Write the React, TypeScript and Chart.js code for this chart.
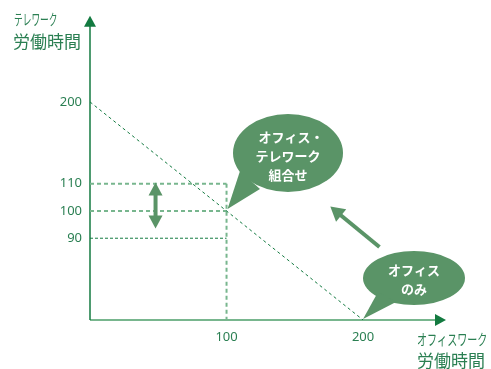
import React, { useEffect, useRef } from "react";
import { Chart, registerables } from "chart.js";

Chart.register(...registerables);

// Data (schematic chart)
const xTickValues = [100, 200];
const xTickLabels = ["100", "200"];
// y tick labels and their (schematic) positions on the axis
const yTickLabels = ["90", "100", "110", "200"];
const yTickPositions = [75, 100, 125, 200];

const budgetLine = [
  { x: 0, y: 200 },
  { x: 200, y: 0 },
];
const line110 = [
  { x: 0, y: 125 },
  { x: 100, y: 125 },
];
const line100 = [
  { x: 0, y: 100 },
  { x: 100, y: 100 },
];
const line90 = [
  { x: 0, y: 75 },
  { x: 100, y: 75 },
];
const line100v = [
  { x: 100, y: 125 },
  { x: 100, y: 0 },
];

const yTitle = ["テレワーク", "労働時間"];
const xTitle = ["オフィスワーク", "労働時間"];
const bubble1Lines = ["オフィス・", "テレワーク", "組合せ"];
const bubble2Lines = ["オフィス", "のみ"];

const DARK = "#137a40";
const LIGHT = "#78b68e";
const MID = "#5a9467";
const TEXT = "#2a7f52";
const JP = '"Noto Sans CJK JP", "Noto Sans", sans-serif';

function condensedText(ctx: CanvasRenderingContext2D, text: string, x: number, y: number, font: string, sx: number) {
  ctx.save();
  ctx.font = font;
  ctx.translate(x, y);
  ctx.scale(sx, 1);
  ctx.fillText(text, 0, 0);
  ctx.restore();
}

function arrowHead(ctx: CanvasRenderingContext2D, tx: number, ty: number, fx: number, fy: number, len: number, half: number) {
  const a = Math.atan2(ty - fy, tx - fx);
  const bx = tx - len * Math.cos(a);
  const by = ty - len * Math.sin(a);
  ctx.beginPath();
  ctx.moveTo(tx, ty);
  ctx.lineTo(bx + half * Math.sin(a), by - half * Math.cos(a));
  ctx.lineTo(bx - half * Math.sin(a), by + half * Math.cos(a));
  ctx.closePath();
  ctx.fill();
}

const decorPlugin = {
  id: "decor",
  beforeDatasetsDraw(chart: any) {
    const { ctx, chartArea } = chart;
    const xs = chart.scales.x;
    const ys = chart.scales.y;
    const x0 = xs.getPixelForValue(0);
    const y0 = ys.getPixelForValue(0);
    ctx.save();
    // x axis
    ctx.strokeStyle = LIGHT;
    ctx.fillStyle = DARK;
    ctx.lineWidth = 2;
    ctx.beginPath();
    ctx.moveTo(x0, y0);
    ctx.lineTo(chartArea.right - 8, y0);
    ctx.stroke();
    arrowHead(ctx, chartArea.right + 1, y0, x0, y0, 11, 6);
    // y axis
    ctx.strokeStyle = DARK;
    ctx.lineWidth = 1.5;
    ctx.beginPath();
    ctx.moveTo(x0, y0);
    ctx.lineTo(x0, chartArea.top + 8);
    ctx.stroke();
    arrowHead(ctx, x0, chartArea.top, x0, y0, 11, 6);
    ctx.restore();
  },
  afterDraw(chart: any) {
    const { ctx } = chart;
    const xs = chart.scales.x;
    const ys = chart.scales.y;
    const px = (v: number) => xs.getPixelForValue(v);
    const py = (v: number) => ys.getPixelForValue(v);
    ctx.save();

    // titles
    ctx.fillStyle = TEXT;
    ctx.textBaseline = "alphabetic";
    ctx.textAlign = "left";
    condensedText(ctx, yTitle[0], 14, 25, `15px ${JP}`, 0.58);
    condensedText(ctx, yTitle[1], 13, 48, `17px ${JP}`, 1);
    condensedText(ctx, xTitle[0], 417, 345, `15px ${JP}`, 0.67);
    condensedText(ctx, xTitle[1], 417, 367, `17px ${JP}`, 1);

    // double arrow
    ctx.fillStyle = MID;
    ctx.strokeStyle = MID;
    const ax = px(48);
    const aTop = py(126);
    const aBot = py(84);
    ctx.lineWidth = 4;
    ctx.beginPath();
    ctx.moveTo(ax, aTop + 10);
    ctx.lineTo(ax, aBot - 10);
    ctx.stroke();
    arrowHead(ctx, ax, aTop, ax, aBot, 13, 7);
    arrowHead(ctx, ax, aBot, ax, aTop, 13, 7);

    // diagonal arrow
    const fx = px(212);
    const fy = py(67);
    const tx = px(176);
    const ty = py(104);
    const ang = Math.atan2(ty - fy, tx - fx);
    ctx.beginPath();
    ctx.moveTo(fx, fy);
    ctx.lineTo(tx - 10 * Math.cos(ang), ty - 10 * Math.sin(ang));
    ctx.stroke();
    arrowHead(ctx, tx, ty, fx, fy, 14, 8);

    // bubble 1
    const b1x = 288;
    const b1y = 153;
    ctx.beginPath();
    ctx.ellipse(b1x, b1y, 55, 39, 0, 0, Math.PI * 2);
    ctx.fill();
    ctx.beginPath();
    ctx.moveTo(b1x - 48, b1y + 18);
    ctx.lineTo(px(100) + 1, py(100) - 2);
    ctx.lineTo(b1x - 28, b1y + 36);
    ctx.closePath();
    ctx.fill();

    // bubble 2
    const b2x = 414;
    const b2y = 278;
    ctx.beginPath();
    ctx.ellipse(b2x, b2y, 51, 27, 0, 0, Math.PI * 2);
    ctx.fill();
    ctx.beginPath();
    ctx.moveTo(b2x - 36, b2y + 14);
    ctx.lineTo(px(200), py(0) - 1);
    ctx.lineTo(b2x - 18, b2y + 24);
    ctx.closePath();
    ctx.fill();

    // bubble texts
    ctx.fillStyle = "#ffffff";
    ctx.textAlign = "center";
    ctx.textBaseline = "middle";
    ctx.font = `bold 13px ${JP}`;
    bubble1Lines.forEach((t, i) => ctx.fillText(t, b1x + (i === 0 ? 3 : 0), b1y - 16 + i * 19));
    bubble2Lines.forEach((t, i) => ctx.fillText(t, b2x, b2y - 8 + i * 19));
    ctx.restore();
  },
};

export default function App() {
  const ref = useRef<HTMLCanvasElement | null>(null);
  useEffect(() => {
    if (!ref.current) return;
    const ds = (data: any[], color: string, width: number, dash: number[]) => ({
      data,
      showLine: true,
      borderColor: color,
      backgroundColor: color,
      borderWidth: width,
      borderDash: dash,
      pointRadius: 0,
      fill: false,
    });
    const chart = new Chart(ref.current, {
      type: "scatter",
      data: {
        datasets: [
          ds(budgetLine, DARK, 1, [3, 3]),
          ds(line110, LIGHT, 2, [4, 3]),
          ds(line100, LIGHT, 2, [4, 3]),
          ds(line90, DARK, 1, [3, 2]),
          ds(line100v, LIGHT, 2, [4, 3]),
        ],
      },
      options: {
        animation: false,
        responsive: false,
        devicePixelRatio: 1,
        layout: { padding: { left: 0, right: 46, top: 10, bottom: 0 } },
        plugins: { legend: { display: false }, tooltip: { enabled: false } },
        scales: {
          x: {
            type: "linear",
            min: 0,
            max: 260,
            grid: { display: false, drawTicks: false },
            border: { display: false },
            afterBuildTicks: (s: any) => {
              s.ticks = xTickValues.map((v) => ({ value: v }));
            },
            afterFit: (s: any) => {
              s.height = 49;
            },
            ticks: {
              padding: 9,
              color: TEXT,
              font: { family: '"Noto Sans", sans-serif', size: 13 },
              callback: (v: any) => xTickLabels[xTickValues.indexOf(Number(v))] ?? "",
            },
          },
          y: {
            type: "linear",
            min: 0,
            max: 279,
            grid: { display: false, drawTicks: false },
            border: { display: false },
            afterBuildTicks: (s: any) => {
              s.ticks = yTickPositions.map((v) => ({ value: v }));
            },
            afterFit: (s: any) => {
              s.width = 90;
            },
            ticks: {
              padding: 8,
              color: TEXT,
              font: { family: '"Noto Sans", sans-serif', size: 13 },
              callback: (v: any) => yTickLabels[yTickPositions.indexOf(Number(v))] ?? "",
            },
          },
        },
      },
      plugins: [decorPlugin],
    } as any);
    return () => chart.destroy();
  }, []);
  return (
    <div style={{ position: "absolute", left: 0, top: 0, width: 491, height: 369, background: "#fff" }}>
      <canvas ref={ref} width={491} height={369} />
    </div>
  );
}
